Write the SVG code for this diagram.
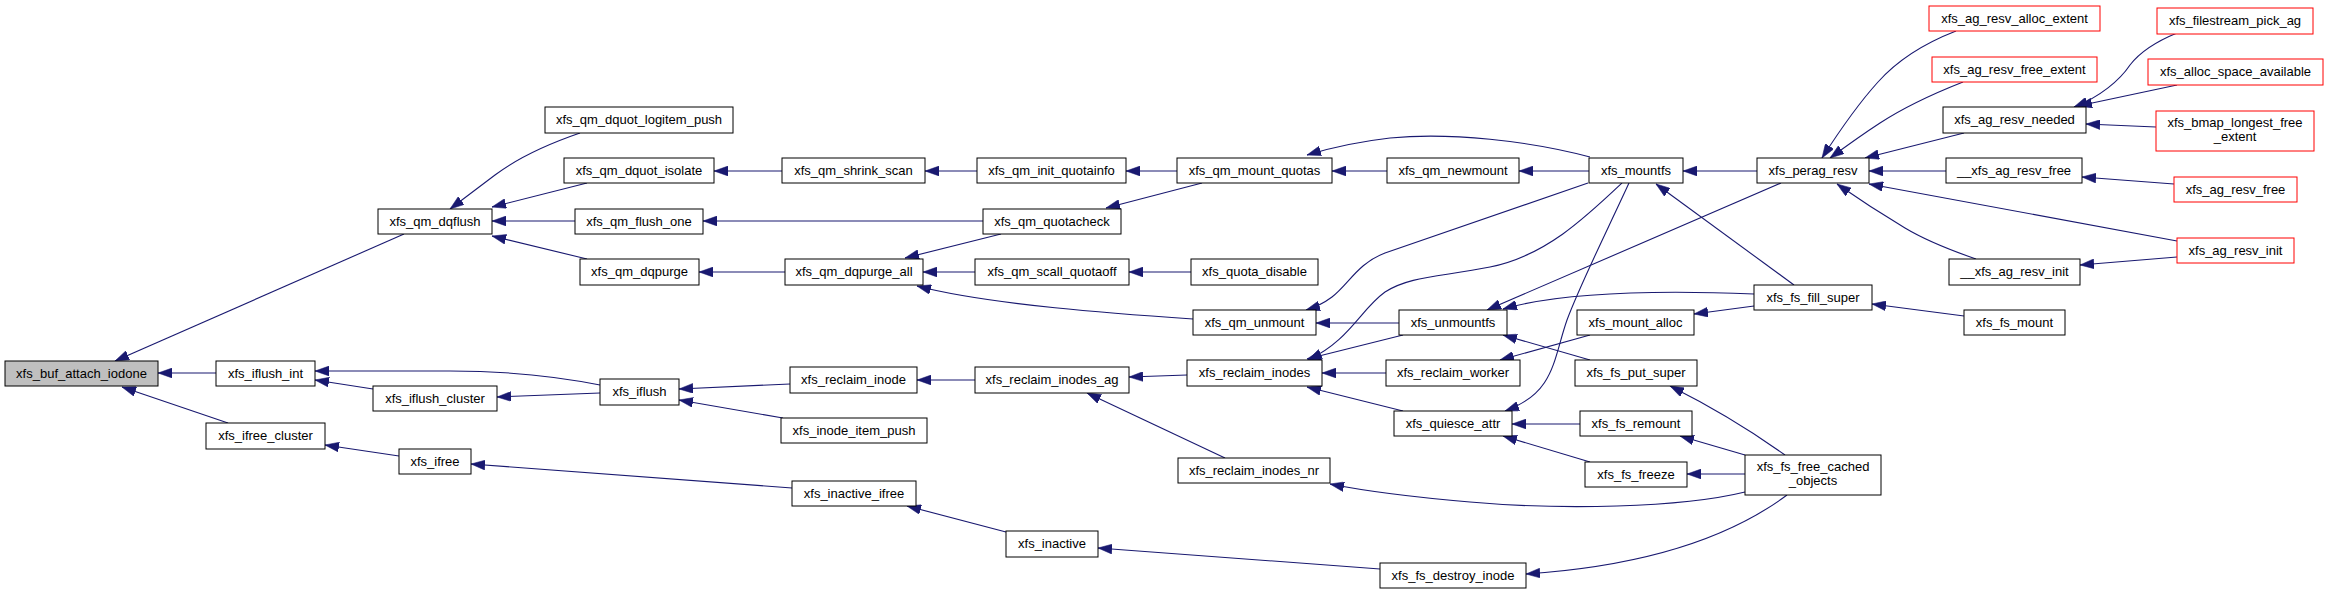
<svg xmlns="http://www.w3.org/2000/svg" width="2328" height="595" viewBox="0 0 2328 595">
<style>
rect{fill:#fff;stroke:#000;stroke-width:1}
rect.r{stroke:#f00}
rect.g{fill:#bfbfbf}
text{font-family:"Liberation Sans",Arial,sans-serif;font-size:13px;text-anchor:middle;fill:#000}
#edges path{fill:none;stroke:#191970;stroke-width:1.1;marker-end:url(#ah)}
</style>
<defs>
<marker id="ah" markerUnits="userSpaceOnUse" markerWidth="14" markerHeight="10" viewBox="0 0 13.3 9.3" refX="13.3" refY="4.65" orient="auto">
<path d="M0,0 L13.3,4.65 L0,9.3 z" fill="#191970" stroke="#191970" stroke-width="0.5"/>
</marker>
</defs>
<rect x="0" y="0" width="2328" height="595" style="fill:#fff;stroke:none"/>
<g id="edges">
<path d="M404,234 L115,361"/>
<path d="M216,373 L158,373"/>
<path d="M228,423 L122,387"/>
<path d="M580,133 C545,145 515,160 495,175 C475,190 462,200 450,209"/>
<path d="M587,183 L492,207"/>
<path d="M575,221 L492,221"/>
<path d="M587,259 L492,236"/>
<path d="M782,171 L714,171"/>
<path d="M977,171 L925,171"/>
<path d="M1177,171 L1126,171"/>
<path d="M983,221 L703,221"/>
<path d="M1202,183 L1106,208"/>
<path d="M785,272 L699,272"/>
<path d="M1001,234 L905,258"/>
<path d="M975,272 L923,272"/>
<path d="M1193,319 C1120,314 990,305 917,286"/>
<path d="M1191,272 L1129,272"/>
<path d="M1590,157 C1530,141 1450,132 1390,138 C1355,142 1330,148 1307,155"/>
<path d="M1387,171 L1332,171"/>
<path d="M1589,171 L1519,171"/>
<path d="M1757,171 L1683,171"/>
<path d="M1588,183 L1385,253 C1358,263 1348,285 1332,297 C1324,303 1316,307 1306,310"/>
<path d="M1622,183 C1585,218 1545,256 1490,267 C1440,277 1410,276 1385,292 C1360,310 1350,340 1308,360"/>
<path d="M1629,183 C1605,235 1580,285 1567,320 C1553,360 1555,393 1505,411"/>
<path d="M1794,285 L1656,184"/>
<path d="M1781,183 L1487,310"/>
<path d="M1754,294 C1680,291 1570,290 1503,309"/>
<path d="M1754,306 L1694,314"/>
<path d="M1399,323 L1316,323"/>
<path d="M1403,335 L1307,359"/>
<path d="M1590,360 L1503,335"/>
<path d="M1590,335 L1500,360"/>
<path d="M1386,373 L1322,373"/>
<path d="M1403,411 L1307,387"/>
<path d="M1580,424 L1512,424"/>
<path d="M1590,462 L1503,436"/>
<path d="M1785,455 C1750,430 1710,406 1670,386"/>
<path d="M1745,455 L1680,436"/>
<path d="M1745,474 L1687,474"/>
<path d="M1745,492 C1680,508 1560,510 1470,502 C1400,496 1360,490 1330,484"/>
<path d="M1787,495 C1740,530 1660,565 1526,574"/>
<path d="M1380,569 L1098,548"/>
<path d="M975,380 L917,380"/>
<path d="M1187,375 L1129,377"/>
<path d="M1225,458 L1087,393"/>
<path d="M790,384 L679,389"/>
<path d="M783,418 L679,400"/>
<path d="M600,385 C560,377 510,371 450,371 L315,371"/>
<path d="M373,389 L315,380"/>
<path d="M600,393 L497,397"/>
<path d="M399,456 L325,445"/>
<path d="M792,488 L471,464"/>
<path d="M1006,532 L907,506"/>
<path d="M1956,31 C1920,45 1895,63 1878,82 C1858,104 1840,130 1822,158"/>
<path d="M1963,82 C1930,95 1900,110 1880,123 C1860,136 1845,147 1830,158"/>
<path d="M1964,133 L1865,158"/>
<path d="M1946,171 L1869,171"/>
<path d="M1976,259 C1950,250 1925,240 1905,228 C1880,213 1860,200 1837,184"/>
<path d="M2177,241 L1869,184"/>
<path d="M2177,33 C2155,42 2140,52 2130,65 C2120,80 2100,97 2074,107"/>
<path d="M2177,85 L2078,106"/>
<path d="M2156,127 L2086,124"/>
<path d="M2174,184 L2082,177"/>
<path d="M2177,257 L2080,265"/>
<path d="M1964,316 L1872,304"/>
</g>
<g id="n1"><rect class="g" x="5" y="361" width="153" height="25"/><text x="81.5" y="378">xfs_buf_attach_iodone</text></g>
<g id="n2"><rect x="378" y="209" width="114" height="25"/><text x="435" y="226">xfs_qm_dqflush</text></g>
<g id="n3"><rect x="216" y="361" width="99" height="25"/><text x="265.5" y="378">xfs_iflush_int</text></g>
<g id="n4"><rect x="206" y="423" width="119" height="26"/><text x="265.5" y="440">xfs_ifree_cluster</text></g>
<g id="n5"><rect x="545" y="107" width="188" height="26"/><text x="639" y="124">xfs_qm_dquot_logitem_push</text></g>
<g id="n6"><rect x="564" y="158" width="150" height="25"/><text x="639" y="175">xfs_qm_dquot_isolate</text></g>
<g id="n7"><rect x="575" y="209" width="128" height="25"/><text x="639" y="226">xfs_qm_flush_one</text></g>
<g id="n8"><rect x="580" y="259" width="119" height="26"/><text x="639.5" y="276">xfs_qm_dqpurge</text></g>
<g id="n9"><rect x="782" y="158" width="143" height="25"/><text x="853.5" y="175">xfs_qm_shrink_scan</text></g>
<g id="n10"><rect x="977" y="158" width="149" height="25"/><text x="1051.5" y="175">xfs_qm_init_quotainfo</text></g>
<g id="n11"><rect x="983" y="209" width="138" height="25"/><text x="1052" y="226">xfs_qm_quotacheck</text></g>
<g id="n12"><rect x="785" y="259" width="138" height="26"/><text x="854" y="276">xfs_qm_dqpurge_all</text></g>
<g id="n13"><rect x="975" y="259" width="154" height="26"/><text x="1052" y="276">xfs_qm_scall_quotaoff</text></g>
<g id="n14"><rect x="1191" y="259" width="127" height="26"/><text x="1254.5" y="276">xfs_quota_disable</text></g>
<g id="n15"><rect x="1177" y="158" width="155" height="25"/><text x="1254.5" y="175">xfs_qm_mount_quotas</text></g>
<g id="n16"><rect x="1387" y="158" width="132" height="25"/><text x="1453" y="175">xfs_qm_newmount</text></g>
<g id="n17"><rect x="1589" y="158" width="94" height="25"/><text x="1636" y="175">xfs_mountfs</text></g>
<g id="n18"><rect x="1757" y="158" width="112" height="25"/><text x="1813" y="175">xfs_perag_resv</text></g>
<g id="n19"><rect class="r" x="1929" y="6" width="171" height="25"/><text x="2014.5" y="23">xfs_ag_resv_alloc_extent</text></g>
<g id="n20"><rect class="r" x="1932" y="57" width="165" height="25"/><text x="2014.5" y="74">xfs_ag_resv_free_extent</text></g>
<g id="n21"><rect x="1943" y="107" width="143" height="26"/><text x="2014.5" y="124">xfs_ag_resv_needed</text></g>
<g id="n22"><rect x="1946" y="158" width="136" height="25"/><text x="2014" y="175">__xfs_ag_resv_free</text></g>
<g id="n23"><rect x="1949" y="259" width="131" height="26"/><text x="2014.5" y="276">__xfs_ag_resv_init</text></g>
<g id="n24"><rect class="r" x="2157" y="8" width="156" height="26"/><text x="2235" y="25">xfs_filestream_pick_ag</text></g>
<g id="n25"><rect class="r" x="2148" y="59" width="175" height="26"/><text x="2235.5" y="76">xfs_alloc_space_available</text></g>
<g id="n26"><rect class="r" x="2156" y="111" width="158" height="40"/><text x="2235" y="127">xfs_bmap_longest_free</text><text x="2235" y="141">_extent</text></g>
<g id="n27"><rect class="r" x="2174" y="177" width="123" height="25"/><text x="2235.5" y="194">xfs_ag_resv_free</text></g>
<g id="n28"><rect class="r" x="2177" y="238" width="117" height="25"/><text x="2235.5" y="255">xfs_ag_resv_init</text></g>
<g id="n29"><rect x="1754" y="285" width="118" height="25"/><text x="1813" y="302">xfs_fs_fill_super</text></g>
<g id="n30"><rect x="1964" y="310" width="101" height="25"/><text x="2014.5" y="327">xfs_fs_mount</text></g>
<g id="n31"><rect x="1745" y="455" width="136" height="40"/><text x="1813" y="471">xfs_fs_free_cached</text><text x="1813" y="485">_objects</text></g>
<g id="n32"><rect x="373" y="386" width="124" height="25"/><text x="435" y="403">xfs_iflush_cluster</text></g>
<g id="n33"><rect x="600" y="379" width="79" height="26"/><text x="639.5" y="396">xfs_iflush</text></g>
<g id="n34"><rect x="399" y="449" width="72" height="25"/><text x="435" y="466">xfs_ifree</text></g>
<g id="n35"><rect x="790" y="367" width="127" height="26"/><text x="853.5" y="384">xfs_reclaim_inode</text></g>
<g id="n36"><rect x="975" y="367" width="154" height="26"/><text x="1052" y="384">xfs_reclaim_inodes_ag</text></g>
<g id="n37"><rect x="781" y="418" width="146" height="25"/><text x="854" y="435">xfs_inode_item_push</text></g>
<g id="n38"><rect x="792" y="481" width="124" height="25"/><text x="854" y="498">xfs_inactive_ifree</text></g>
<g id="n39"><rect x="1006" y="531" width="92" height="26"/><text x="1052" y="548">xfs_inactive</text></g>
<g id="n40"><rect x="1193" y="310" width="123" height="25"/><text x="1254.5" y="327">xfs_qm_unmount</text></g>
<g id="n41"><rect x="1399" y="310" width="108" height="25"/><text x="1453" y="327">xfs_unmountfs</text></g>
<g id="n42"><rect x="1577" y="310" width="117" height="25"/><text x="1635.5" y="327">xfs_mount_alloc</text></g>
<g id="n43"><rect x="1187" y="360" width="135" height="26"/><text x="1254.5" y="377">xfs_reclaim_inodes</text></g>
<g id="n44"><rect x="1386" y="360" width="134" height="26"/><text x="1453" y="377">xfs_reclaim_worker</text></g>
<g id="n45"><rect x="1575" y="360" width="122" height="26"/><text x="1636" y="377">xfs_fs_put_super</text></g>
<g id="n46"><rect x="1394" y="411" width="118" height="25"/><text x="1453" y="428">xfs_quiesce_attr</text></g>
<g id="n47"><rect x="1580" y="411" width="112" height="25"/><text x="1636" y="428">xfs_fs_remount</text></g>
<g id="n48"><rect x="1178" y="458" width="152" height="25"/><text x="1254" y="475">xfs_reclaim_inodes_nr</text></g>
<g id="n49"><rect x="1585" y="462" width="102" height="25"/><text x="1636" y="479">xfs_fs_freeze</text></g>
<g id="n50"><rect x="1380" y="563" width="146" height="25"/><text x="1453" y="580">xfs_fs_destroy_inode</text></g>
</svg>
